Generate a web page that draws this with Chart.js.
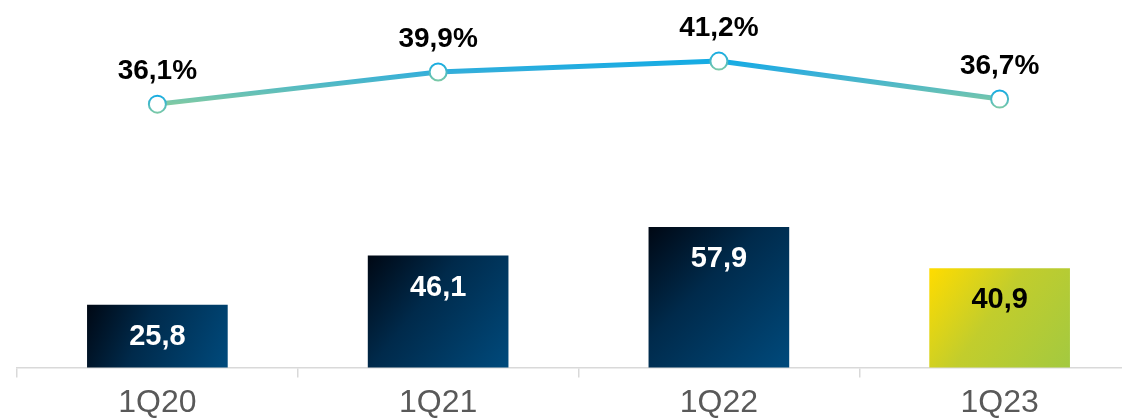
<!DOCTYPE html>
<html>
<head>
<meta charset="utf-8">
<script src="https://cdn.jsdelivr.net/npm/chart.js@4.4.0/dist/chart.umd.min.js"></script>
<style>
  html, body { margin: 0; padding: 0; background: #fff; overflow: hidden; }
  #wrap { width: 1122px; height: 419px; overflow: hidden; }
  #box { width: 1140px; height: 428px; }
</style>
</head>
<body>
<div id="wrap"><div id="box"><canvas id="marginChart"></canvas></div></div>
<script>
const categories = ['1Q20', '1Q21', '1Q22', '1Q23'];
const barValues = [25.8, 46.1, 57.9, 40.9];
const barLabels = ['25,8', '46,1', '57,9', '40,9'];
const marginValues = [36.1, 39.9, 41.2, 36.7];
const marginLabels = ['36,1%', '39,9%', '41,2%', '36,7%'];

const FONT = '"Liberation Sans", Arial, sans-serif';
const BAR_W = 140;

// diagonal gradient per bar, dark navy for history, yellow-green for last
function barFill(ctx) {
  const chart = ctx.chart;
  if (!chart.chartArea || !chart.scales.y) return '#00335a';
  const i = ctx.dataIndex;
  const xc = chart.scales.x.getPixelForValue(i);
  const top = chart.scales.y.getPixelForValue(barValues[i]);
  const bottom = chart.scales.y.getPixelForValue(0);
  const g = chart.ctx.createLinearGradient(xc - BAR_W / 2, top, xc + BAR_W / 2, bottom);
  if (i === barValues.length - 1) {
    g.addColorStop(0, '#ffdc00');
    g.addColorStop(0.45, '#c2cd2c');
    g.addColorStop(1, '#a3c940');
  } else {
    g.addColorStop(0, '#000814');
    g.addColorStop(0.4, '#002a4b');
    g.addColorStop(1, '#004a7c');
  }
  return g;
}

function lineColor(ctx) {
  const chart = ctx.chart;
  if (!chart.chartArea || !chart.scales.y1) return '#29abe2';
  const s = chart.scales.y1;
  const g = chart.ctx.createLinearGradient(0, s.getPixelForValue(41.2), 0, s.getPixelForValue(36.1));
  g.addColorStop(0, '#14abe4');
  g.addColorStop(0.25, '#33aedb');
  g.addColorStop(1, '#80caa3');
  return g;
}

function markerBorder(ctx) {
  const chart = ctx.chart;
  if (!chart.chartArea || !chart.scales.y1) return '#29abe2';
  const y = chart.scales.y1.getPixelForValue(marginValues[ctx.dataIndex]);
  const g = chart.ctx.createLinearGradient(0, y - 9, 0, y + 9);
  g.addColorStop(0, '#14abe4');
  g.addColorStop(1, '#7cc9a6');
  return g;
}

const labelPlugin = {
  id: 'valueLabels',
  afterDatasetsDraw(chart) {
    const c = chart.ctx;
    c.save();
    c.textAlign = 'center';
    c.font = 'bold 29px ' + FONT;
    const bars = chart.getDatasetMeta(1).data;
    bars.forEach((el, i) => {
      c.fillStyle = i === bars.length - 1 ? '#000000' : '#ffffff';
      c.textBaseline = 'middle';
      c.fillText(barLabels[i], el.x, el.y + 32);
    });
    c.font = 'bold 28px ' + FONT;
    const pts = chart.getDatasetMeta(0).data;
    pts.forEach((el, i) => {
      c.fillStyle = '#000000';
      c.textBaseline = 'alphabetic';
      c.fillText(marginLabels[i], el.x, el.y - 25);
    });
    c.restore();
  }
};

new Chart(document.getElementById('marginChart'), {
  type: 'bar',
  data: {
    labels: categories,
    datasets: [
      {
        type: 'line',
        data: marginValues,
        yAxisID: 'y1',
        order: 0,
        borderColor: lineColor,
        borderWidth: 5,
        tension: 0,
        pointRadius: 8.5,
        pointBorderWidth: 2,
        pointBackgroundColor: '#ffffff',
        pointBorderColor: markerBorder,
        clip: false
      },
      {
        type: 'bar',
        data: barValues,
        yAxisID: 'y',
        order: 1,
        backgroundColor: barFill,
        barThickness: BAR_W,
        borderWidth: 0
      }
    ]
  },
  options: {
    responsive: true,
    maintainAspectRatio: false,
    animation: false,
    layout: { autoPadding: false, padding: { left: 17, right: 0, top: 0, bottom: 0 } },
    plugins: { legend: { display: false }, tooltip: { enabled: false } },
    scales: {
      x: {
        offset: true,
        border: { display: true, color: '#d9d9d9', width: 1.5 },
        grid: { offset: true, drawOnChartArea: false, drawTicks: true, tickLength: 10, color: '#d9d9d9', lineWidth: 1.5 },
        ticks: { color: '#595959', padding: 6, font: { family: FONT, size: 32 } }
      },
      y: { display: false, min: 0, max: 151.7 },
      y1: { display: false, min: 4.88, max: 48.44 }
    }
  },
  plugins: [labelPlugin]
});
</script>
</body>
</html>
